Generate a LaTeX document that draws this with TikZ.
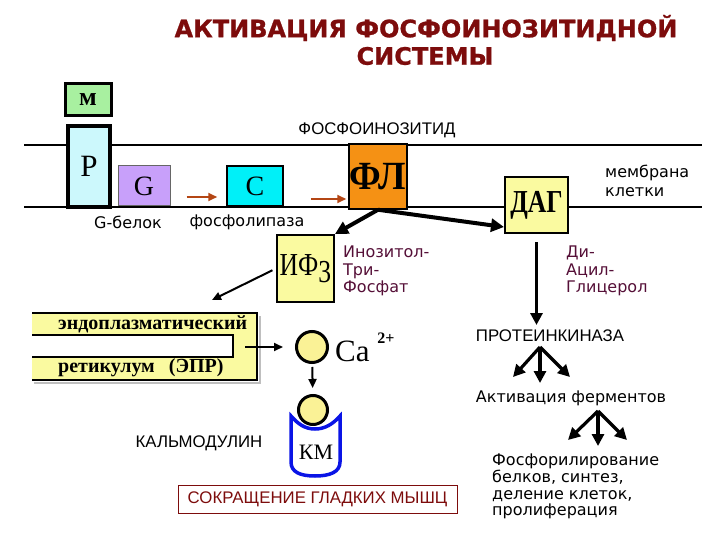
\documentclass[tikz,border=0pt]{standalone}
\usepackage{fontspec}
\setmainfont{Liberation Serif}
\newfontfamily\dvs{DejaVu Sans}
\newfontfamily\lsans{Liberation Sans}
\newfontfamily\titlef[FakeBold=1]{DejaVu Sans}
\usetikzlibrary{arrows.meta,calc}
\newcommand\fsz[1]{\fontsize{#1}{#1}\selectfont}
\definecolor{maroon}{RGB}{125,12,12}
\definecolor{lblpurple}{RGB}{85,15,55}
\definecolor{mgreen}{RGB}{168,240,160}
\definecolor{pcyan}{RGB}{204,248,252}
\definecolor{glav}{RGB}{200,160,250}
\definecolor{ccyan}{RGB}{0,240,248}
\definecolor{florange}{RGB}{245,145,20}
\definecolor{ly}{RGB}{250,250,160}
\definecolor{cay}{RGB}{250,242,150}
\definecolor{brarrow}{RGB}{180,70,20}
\definecolor{kmblue}{RGB}{10,20,230}
\tikzset{
  box/.style={draw, inner sep=0pt, anchor=center},
  lbl/.style={inner sep=0pt, font=\dvs\fsz{16}},
  lsl/.style={inner sep=0pt, font=\lsans\fsz{16.8}},
  titl/.style={inner sep=0pt, text=maroon, font=\titlef\bfseries\fsz{24}},
  memb/.style={line width=2.2pt},
  brarr/.style={draw=brarrow, line width=2.2pt, -{Triangle[length=9pt,width=8pt]}},
  bigarr/.style={line width=4pt, -{Triangle[length=13pt,width=13pt]}},
  medarr/.style={line width=3.2pt, -{Triangle[length=12pt,width=12pt]}},
  thinarr/.style={line width=2pt, -{Triangle[length=9pt,width=8pt]}},
}
\begin{document}
\begin{tikzpicture}[x=1pt,y=-1pt]
\useasboundingbox (0,0) rectangle (720,540);
% title
\node[titl] (t1) at (426,28) {АКТИВАЦИЯ ФОСФОИНОЗИТИДНОЙ};
\node[titl] (t2) at (425,56) {СИСТЕМЫ};
% membrane
\draw[memb] (24,145) -- (702,145);
\draw[memb] (24,207) -- (702,207);
% boxes
\node[box, fill=mgreen, line width=3pt, minimum width=46pt, minimum height=32pt] (m) at (88,100) {\fsz{26}\bfseries м};
\node[box, fill=pcyan, line width=3.5pt, minimum width=42pt, minimum height=81pt] (p) at (89,166.5) {\fsz{31}P};
\node[box, fill=glav, draw=black!60, line width=1pt, minimum width=52pt, minimum height=40pt] (g) at (144,186) {\fsz{28}G};
\node[box, fill=ccyan, line width=1.5pt, minimum width=56pt, minimum height=40pt] (c) at (255,186) {\fsz{28}C};
\node[box, fill=florange, line width=1.5pt, minimum width=58pt, minimum height=65pt] (fl) at (378,176.5) {\raisebox{-4pt}{\scalebox{0.92}[1]{\fsz{40}\bfseries ФЛ}}};
\node[box, fill=ly, line width=2pt, minimum width=63pt, minimum height=56pt] (dag) at (536.5,205) {\scalebox{0.8}[1]{\fsz{32}\bfseries ДАГ}};
\node[box, fill=ly, line width=2pt, minimum width=57pt, minimum height=67pt] (if3) at (305.5,268.5) {\scalebox{0.8}[1]{\fsz{32}ИФ\raisebox{-7pt}{3}}};
% brown arrows
\draw[brarr, shorten <=16pt, shorten >=9pt] ([yshift=-11pt]g.east) -- ([yshift=-11pt]c.west);
\draw[brarr, shorten <=27pt, shorten >=2pt] ([yshift=-13pt]c.east) -- ([yshift=-13pt]c.east -| fl.west);
% labels
\node[lbl] (lg) at (128,222) {G-белок};
\node[lbl] (lpl) at (247,222) {фосфолипаза};
\node[lsl] (lfi) at (377,130) {ФОСФОИНОЗИТИД};
\node[lbl, anchor=west, align=left, font=\dvs\fontsize{16}{19}\selectfont] (lmem) at (605,181) {мембрана\\клетки};
% FL arrows
\draw[bigarr] (fl.south) -- (if3.north east);
\draw[bigarr] (fl.south) -- ([yshift=7pt]dag.south west);
% labels of IF3, DAG
\node[lbl, anchor=north west, align=left, text=lblpurple, font=\dvs\fontsize{16}{17.5}\selectfont] (lif) at (343,246) {Инозитол-\\Три-\\Фосфат};
\node[lbl, anchor=north west, align=left, text=lblpurple, font=\dvs\fontsize{16}{17.5}\selectfont] (ldag) at (566,246) {Ди-\\Ацил-\\Глицерол};
% protein kinase branch
\node[lsl] (pk) at (550,336) {ПРОТЕИНКИНАЗА};
\draw[medarr, shorten <=8pt] (dag.south) -- (dag.south |- 0,325);
\coordinate (pk0) at (540,347);
\coordinate (pk1) at (513,377);
\coordinate (pk2) at (540,383);
\coordinate (pk3) at (570,377);
\draw[medarr] (pk0) -- (pk1);
\draw[medarr] (pk0) -- (pk2);
\draw[medarr] (pk0) -- (pk3);
\node[lbl] (act) at (571,398) {Активация ферментов};
\coordinate (ac0) at (598,411);
\coordinate (ac1) at (568,440);
\coordinate (ac2) at (598,446);
\coordinate (ac3) at (627,440);
\draw[medarr] (ac0) -- (ac1);
\draw[medarr] (ac0) -- (ac2);
\draw[medarr] (ac0) -- (ac3);
\node[lbl, anchor=north west, align=left, font=\dvs\fontsize{16}{16.7}\selectfont] (phos) at (492,454) {Фосфорилирование\\белков, синтез,\\деление клеток,\\пролиферация};
% ER
\draw[black!25, line width=2pt] (260,316) -- (260,383) -- (34,383);
\fill[ly] (32,313) -- (257,313) -- (257,380) -- (32,380) -- (32,357) -- (233,357) -- (233,335) -- (32,335) -- cycle;
\draw[line width=2.5pt, line join=miter] (32,313) -- (257,313) -- (257,380) -- (32,380);
\draw[line width=2.5pt, line join=miter] (32,357) -- (233,357) -- (233,335) -- (32,335);
\node[inner sep=0pt, anchor=west] (er1) at (58,324) {\fsz{20}\bfseries эндоплазматический};
\node[inner sep=0pt, anchor=west] (er2) at (58,368) {\fsz{20}\bfseries ретикулум\hspace{14pt}(ЭПР)};
\coordinate (erin) at (212,300);
\draw[thinarr, shorten <=4pt] (if3.west) -- (erin);
% Ca
\node[circle, draw, line width=3pt, fill=cay, minimum size=31pt, inner sep=0pt] (ca) at (312,347) {};
\node[inner sep=0pt, anchor=west] (catxt) at (335,351) {\fsz{31}Ca};
\node[inner sep=0pt] (cachg) at (386,338) {\fsz{16}\bfseries 2+};
\coordinate (erout) at (245,347);
\draw[thinarr, shorten >=12pt] (erout) -- (ca);
\node[circle, draw, line width=3pt, fill=cay, minimum size=29pt, inner sep=0pt] (c2) at (313,410) {};
\draw[thinarr, shorten <=3pt, shorten >=6pt] (ca) -- (c2);
% KM cup
\draw[kmblue, line width=3.5pt] (291,416) .. controls (298,424) and (305,429) .. (315,429) .. controls (325,429) and (333,424) .. (340,416)
  -- (340,462) .. controls (340,472) and (330,476) .. (315,476) .. controls (300,476) and (291,472) .. (291,462) -- cycle;
\node[inner sep=0pt] (km) at (316,452) {\fsz{22}КМ};
\node[lsl] (kal) at (199,443) {КАЛЬМОДУЛИН};
\node[draw=maroon, line width=1pt, text=maroon, font=\lsans\fsz{16.8}, minimum width=279pt, minimum height=28pt, inner sep=0pt] (smc) at (317.5,499) {СОКРАЩЕНИЕ ГЛАДКИХ МЫШЦ};
\end{tikzpicture}
\end{document}
